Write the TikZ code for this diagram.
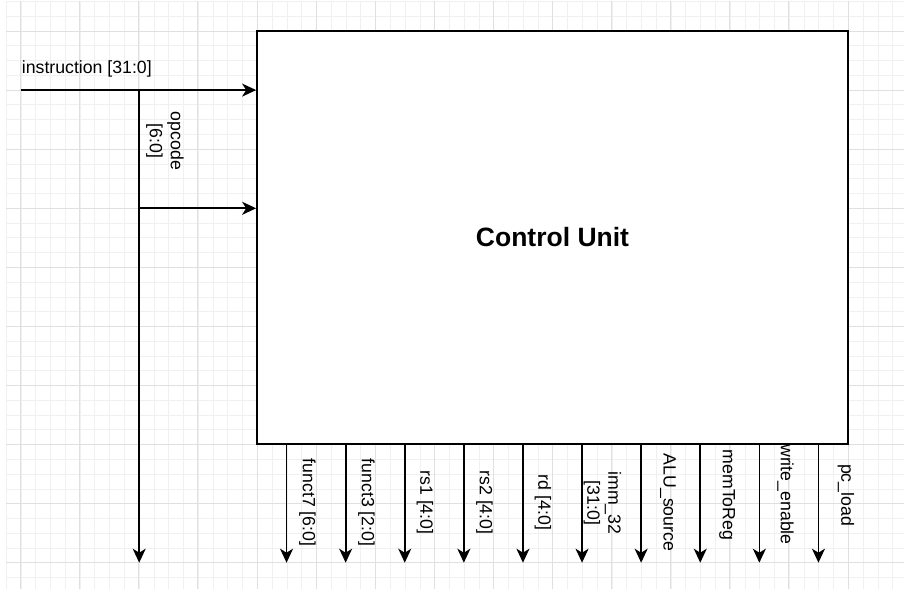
\documentclass[tikz,border=0pt]{standalone}
\usepackage{fontspec}
\setmainfont{Liberation Sans}
\usetikzlibrary{arrows.meta}
\definecolor{gridminor}{HTML}{F0F0F0}
\definecolor{gridmajor}{HTML}{E0E0E0}
\tikzset{
  wire/.style={line width=1.7pt, draw=black},
  arr/.style={wire, -{Stealth[length=14pt,width=13pt,inset=4pt]}},
  lbl/.style={font=\fontsize{17.7}{21}\selectfont, inner sep=0pt, align=center},
  vlbl/.style={lbl, rotate=-90},
  minorline/.style={draw=gridminor, line width=0.9pt},
  majorline/.style={draw=gridmajor, line width=1pt},
  unitbox/.style={draw=black, line width=1.7pt, fill=white, inner sep=0pt,
    minimum width=591pt, minimum height=413pt,
    font=\fontsize{26.5}{30}\selectfont\bfseries},
}
\begin{document}
\begin{tikzpicture}[x=1pt,y=-1pt]
  % canvas
  \fill[white] (0,0) rectangle (904,589);
  \useasboundingbox (0,0) rectangle (904,589);
  % grid
  \begin{scope}
    \clip (0,0) rectangle (904,589);
    \foreach \i in {0,...,61} {
      \draw[minorline] ({6.25+14.775*\i},1.45) -- ({6.25+14.775*\i},589);
    }
    \foreach \j in {0,...,39} {
      \draw[minorline] (6.25,{1.45+14.775*\j}) -- (904,{1.45+14.775*\j});
    }
    \foreach \k in {0,...,15} {
      \draw[majorline] ({20.6+59.1*\k},1.45) -- ({20.6+59.1*\k},589);
    }
    \foreach \k in {0,...,9} {
      \draw[majorline] (6.25,{31+59.1*\k}) -- (904,{31+59.1*\k});
    }
  \end{scope}

  % control unit
  \node[unitbox] (cu) at (552.5,237.5) {Control Unit};

  % inputs
  \coordinate (instart) at (20.6,90.1);
  \coordinate (tap) at (139.2,90.1);
  \coordinate (opbranch) at (139.2,208.3);
  \coordinate (opend) at (139.2,562.7);
  \draw[arr] (instart) -- (instart -| cu.west);
  \draw[arr] (tap) -- (opend);
  \draw[arr] (opbranch) -- (opbranch -| cu.west);

  \node[lbl, anchor=west] (inlbl) at (21.7,68.7) {instruction [31:0]};
  \node[vlbl] (oplbl) at (165,141) {opcode\\ {[6:0]}};

  % outputs
  \foreach \n/\x in {a/286.55, b/345.65, c/404.75, d/463.85, e/522.95,
                     f/582.05, g/641.15, h/700.25, i/759.35, j/818.45} {
    \coordinate (out\n) at (\x,562.7);
    \draw[arr] (out\n |- cu.south) -- (out\n);
  }

  \node[vlbl] (lf7)  at (307.5,502.5) {funct7 [6:0]};
  \node[vlbl] (lf3)  at (366.5,502.5) {funct3 [2:0]};
  \node[vlbl] (lrs1) at (425,502.5) {rs1 [4:0]};
  \node[vlbl] (lrs2) at (484.5,502.5) {rs2 [4:0]};
  \node[vlbl] (lrd)  at (543,502.5) {rd [4:0]};
  \node[vlbl] (limm) at (602.5,503) {imm\_32\\ {[31:0]}};
  \node[vlbl] (lalu) at (668,502.5) {ALU\_source};
  \node[vlbl] (lmtr) at (727,495) {memToReg};
  \node[vlbl] (lwe)  at (785.5,494.5) {write\_enable};
  \node[vlbl] (lpc)  at (846,495) {pc\_load};
\end{tikzpicture}
\end{document}
